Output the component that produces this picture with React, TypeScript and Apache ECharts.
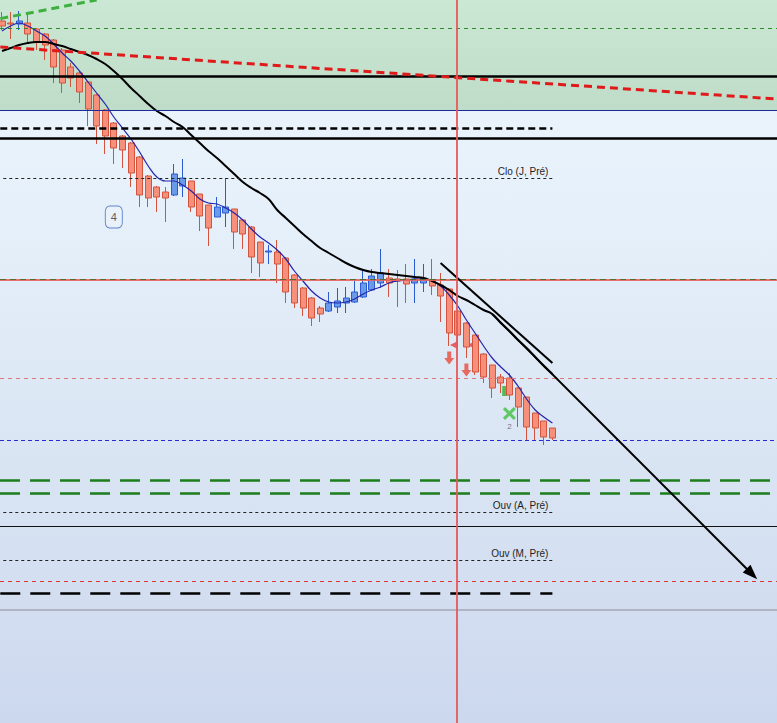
import { useEffect, useRef } from "react";
import * as echarts from "echarts";

// one entry per bar: [open, close, low, high]
const candles: number[][] = [
  [497.9, 497.4, 497.0, 498.8],
  [497.7, 497.6, 496.1, 498.8],
  [497.6, 497.9, 497.0, 498.9],
  [497.7, 496.6, 495.7, 498.7],
  [497.1, 495.8, 495.0, 497.2],
  [496.6, 495.5, 494.0, 496.7],
  [496.0, 493.3, 491.7, 496.1],
  [495.0, 491.7, 490.7, 495.2],
  [493.3, 492.2, 491.3, 493.7],
  [492.7, 490.8, 489.7, 492.8],
  [491.8, 489.1, 487.4, 491.9],
  [490.5, 487.4, 485.6, 490.6],
  [489.0, 486.4, 484.6, 489.1],
  [487.7, 485.2, 483.6, 487.8],
  [486.4, 485.0, 483.2, 486.5],
  [485.7, 482.7, 481.3, 485.8],
  [484.3, 480.5, 479.3, 484.4],
  [482.4, 480.2, 479.3, 482.5],
  [481.3, 480.3, 478.8, 481.4],
  [480.8, 480.2, 477.8, 481.3],
  [480.5, 482.6, 480.4, 483.6],
  [481.4, 482.2, 480.3, 484.1],
  [481.9, 479.3, 478.8, 481.9],
  [480.6, 478.4, 476.9, 480.6],
  [479.5, 477.2, 475.4, 479.5],
  [478.3, 479.3, 478.3, 480.3],
  [478.7, 479.3, 477.3, 482.2],
  [479.1, 476.8, 475.1, 479.1],
  [478.0, 476.6, 475.1, 478.1],
  [477.3, 474.3, 472.7, 477.4],
  [475.8, 473.7, 472.3, 475.8],
  [474.8, 474.9, 473.6, 475.5],
  [474.8, 473.6, 471.7, 476.0],
  [474.2, 470.8, 469.7, 474.3],
  [472.5, 469.7, 469.2, 472.6],
  [471.2, 469.2, 468.4, 471.3],
  [470.2, 468.2, 467.4, 470.3],
  [469.2, 468.6, 467.8, 469.4],
  [468.9, 469.7, 468.8, 470.8],
  [469.3, 469.9, 468.7, 471.2],
  [469.7, 470.2, 468.7, 471.3],
  [469.8, 470.8, 469.7, 471.9],
  [470.3, 471.7, 470.2, 473.1],
  [471.0, 472.4, 470.9, 473.1],
  [471.7, 472.7, 471.2, 475.1],
  [472.2, 471.7, 470.3, 473.1],
  [472.1, 471.9, 469.3, 473.0],
  [472.1, 471.6, 469.7, 473.6],
  [471.7, 472.1, 469.7, 474.1],
  [471.7, 472.2, 470.8, 473.6],
  [472.0, 471.4, 470.5, 474.1],
  [471.5, 470.4, 467.8, 472.7],
  [471.1, 466.7, 465.4, 471.2],
  [468.9, 466.5, 465.3, 469.0],
  [467.7, 465.3, 464.2, 467.8],
  [466.5, 462.8, 462.5, 466.5],
  [464.6, 462.3, 461.7, 464.7],
  [463.5, 461.2, 460.2, 463.5],
  [462.3, 461.7, 460.7, 462.6],
  [462.2, 460.5, 460.0, 462.7],
  [461.2, 459.3, 457.3, 461.3],
  [460.3, 457.3, 456.0, 460.3],
  [458.7, 457.2, 456.0, 458.7],
  [457.9, 456.3, 455.5, 457.9],
  [457.2, 456.2, 456.0, 457.2],
];

const fastMa = [
  496.9, 497.4, 497.7, 497.4, 496.9, 496.4, 495.6, 494.7, 493.9, 492.9,
  491.8, 490.7, 489.6, 488.3, 487.2, 486.1, 484.8, 483.4, 482.3, 481.9,
  481.9, 481.5, 480.9, 480.1, 479.7, 479.6, 479.2, 478.7, 478.0, 477.1,
  476.3, 475.7, 475.0, 474.1, 472.9, 471.9, 470.9, 470.2, 469.8, 469.7,
  469.8, 470.1, 470.6, 471.0, 471.3, 471.7, 471.9, 472.0, 472.1, 472.1,
  471.9, 471.4, 470.5, 469.4, 468.0, 466.7, 465.4, 464.2, 463.3, 462.5,
  461.4, 460.1, 459.0, 458.3, 457.7,
];

const slowMa = [
  494.9, 495.2, 495.5, 495.7, 495.8, 495.8, 495.6, 495.4, 495.1, 494.8,
  494.5, 494.1, 493.6, 492.9, 492.1, 491.2, 490.4, 489.6, 488.9, 488.4,
  487.8, 487.3, 486.5, 485.7, 484.9, 484.2, 483.4, 482.6, 481.8, 481.2,
  480.7, 480.1, 479.0, 478.2, 477.4, 476.6, 475.9, 475.2, 474.7, 474.2,
  473.7, 473.3, 473.0, 472.8, 472.7, 472.6, 472.5, 472.4, 472.3, 472.2,
  471.9, 471.5, 471.0, 470.4, 470.0, 469.5, 469.0, 468.6, 467.7, 466.9,
  466.0, 465.2, 464.3, 463.4, 462.6,
];

// zones and levels (price)
const greenZone = [500, 489.0];
const thickSolidLevels = [492.4, 486.2];
const thinSolidLevels = [447.4];
const blueZoneEdge = 489.0;
const greenThinLevel = 497.2;
const thickDashLevelsShort = [487.2];
const thickDashLevelsLong = [440.7];
const greenDashLevels = [452.0, 450.7];
const bluePivot = 456.0;
const redMonthLow = 441.9;
const redSupport = 472.0;
const oliveLevel = 472.1;
const baseLine = 439.0;
const pivotLabels = ["Clo (J, Pré)", "Bas (J, Pré)", "Ouv (A, Pré)", "Ouv (M, Pré)"];
const pivotPrices = [482.2, 462.2, 448.8, 444.0];
const sessionMarkerBar = 52.9;

// trend lines: [[bar, price], [bar, price]]
const redTrend = [[-0.2, 495.3], [90.1, 490.1]];
const greenTrend = [[-0.2, 498.14], [11.0, 500.0]];
const shortTrend = [[51, 473.7], [64, 463.7]];
const arrowTrend = [[57, 468.6], [87.2, 442.6]];

// signals
const sellArrows = [[52, 464.2], [54, 463.0]];
const sellTicks = [[52.55, 465.5], [54.6, 465.5]];
const buyTicks = [[58.45, 460.9]];
const crossSignals = [[59, 458.65, 2]];
const waveCounts = [[13, 478.3, 4]];

const FONT = "'Liberation Sans', Arial, sans-serif";

export default function App() {
  const ref = useRef<HTMLDivElement | null>(null);

  useEffect(() => {
    document.body.style.margin = "0";
    if (!ref.current) return;
    const chart = echarts.init(ref.current, null, { renderer: "svg" });

    const lastBar = candles.length - 1;
    const full = (v: number, lineStyle: any) => ({ yAxis: v, lineStyle });
    const seg = (a: number[], b: number[], lineStyle: any, extra: any = {}) => [
      { coord: a, lineStyle, ...extra },
      { coord: b },
    ];
    const thinDash = { color: "#222", width: 1, type: [3, 3] };

    const pivotLines: any[] = pivotPrices.map((p, i) => {
      const isBas = i === 1;
      return seg([0.15, p], [lastBar, p], isBas ? { opacity: 0 } : thinDash, {
        label: {
          show: true,
          position: "insideEndTop",
          distance: [4, 2],
          formatter: pivotLabels[i],
          color: isBas ? "rgba(222,100,100,0.85)" : "#1e1e1e",
          fontSize: 10,
          fontFamily: FONT,
        },
      });
    });

    const markLines: any[] = [
      full(greenThinLevel, { color: "#2f8a2f", width: 1, type: [4, 4] }),
      full(blueZoneEdge, { color: "#1c2a9c", width: 1, type: "solid" }),
      ...thickSolidLevels.map((v) => full(v, { color: "#000", width: 2.5, type: "solid" })),
      ...thinSolidLevels.map((v) => full(v, { color: "#111", width: 1, type: "solid" })),
      ...thickDashLevelsShort.map((v) =>
        seg([-0.2, v], [lastBar, v], { color: "#000", width: 2.5, type: [7, 4] })
      ),
      ...thickDashLevelsLong.map((v) =>
        seg([-0.2, v], [lastBar, v], { color: "#000", width: 2.5, type: [20, 10] })
      ),
      ...greenDashLevels.map((v) => full(v, { color: "#1b7d1b", width: 2.5, type: [20, 10] })),
      full(redSupport, { color: "rgba(232,96,96,0.9)", width: 2, type: "solid" }),
      full(oliveLevel, { color: "#5a6b2c", width: 1.2, type: [6, 4] }),
      full(pivotPrices[1], { color: "#e07878", width: 1, type: [4, 4] }),
      full(bluePivot, { color: "#2a2ad0", width: 1, type: [4, 3] }),
      full(redMonthLow, { color: "#e03434", width: 1, type: [4, 4] }),
      full(baseLine, { color: "#a4a6b0", width: 1.5, type: "solid" }),
      ...pivotLines,
      seg(redTrend[0], redTrend[1], { color: "#e01a1a", width: 3, type: [8, 5] }),
      seg(greenTrend[0], greenTrend[1], { color: "#3fb040", width: 3, type: [8, 5] }),
      seg(shortTrend[0], shortTrend[1], { color: "#000", width: 2, type: "solid" }),
      [
        { coord: arrowTrend[0], lineStyle: { color: "#000", width: 2, type: "solid" }, symbol: "none" },
        { coord: arrowTrend[1], symbol: "triangle", symbolSize: [11, 15] },
      ],
      { xAxis: sessionMarkerBar, lineStyle: { color: "rgba(232,88,88,0.9)", width: 2, type: "solid" } },
    ];

    chart.setOption({
      animation: false,
      grid: { left: 0, right: 0, top: 0, bottom: 0 },
      xAxis: {
        type: "value",
        min: -0.2326,
        max: 90.1163,
        show: false,
        splitLine: { show: false },
      },
      yAxis: {
        type: "value",
        min: 427.7,
        max: 500,
        show: false,
        splitLine: { show: false },
      },
      series: [
        {
          type: "candlestick",
          name: "prix",
          barWidth: 6.5,
          z: 2,
          data: candles.map((c, i) => [i, c[0], c[1], c[2], c[3]]),
          itemStyle: {
            color: "#6b9ae9",
            color0: "#f6907b",
            borderColor: "#2b5bd0",
            borderColor0: "#d3533c",
            borderWidth: 1,
          },
          emphasis: { disabled: true },
          markArea: {
            silent: true,
            z: 1,
            data: [
              [
                {
                  coord: [-0.2326, greenZone[0]],
                  itemStyle: {
                    color: new echarts.graphic.LinearGradient(0, 0, 0, 1, [
                      { offset: 0, color: "#cbe8d5" },
                      { offset: 1, color: "#bedcc8" },
                    ]),
                  },
                },
                { coord: [90.1163, greenZone[1]] },
              ],
            ],
          },
          markLine: {
            silent: true,
            symbol: ["none", "none"],
            label: { show: false },
            emphasis: { disabled: true },
            data: markLines,
          },
        },
        {
          type: "scatter",
          name: "ticks",
          z: 1,
          silent: true,
          data: sellTicks,
          symbol: "triangle",
          symbolRotate: 90,
          symbolSize: 8,
          itemStyle: { color: "#e53b3b" },
        },
        {
          type: "scatter",
          name: "buyTicks",
          z: 1,
          silent: true,
          data: buyTicks,
          symbol: "rect",
          symbolSize: [5, 10],
          itemStyle: { color: "#2fb02f" },
        },
        {
          type: "line",
          name: "MM lente",
          z: 4,
          data: slowMa.map((v, i) => [i, v]),
          smooth: 0.4,
          showSymbol: false,
          silent: true,
          lineStyle: { color: "#000", width: 2 },
        },
        {
          type: "line",
          name: "MM rapide",
          z: 3,
          data: fastMa.map((v, i) => [i, v]),
          smooth: 0.4,
          showSymbol: false,
          silent: true,
          lineStyle: { color: "#2424a8", width: 1.2 },
        },
        {
          type: "scatter",
          name: "sell",
          z: 6,
          silent: true,
          data: sellArrows,
          symbol: "path://M3,0 L7,0 L7,6 L10,6 L5,12 L0,6 L3,6 Z",
          symbolSize: [10, 13],
          itemStyle: { color: "#e84a3a" },
        },
        {
          type: "scatter",
          name: "cross",
          z: 6,
          silent: true,
          data: crossSignals,
          symbol:
            "path://M2,0 L6,4 L10,0 L12,2 L8,6 L12,10 L10,12 L6,8 L2,12 L0,10 L4,6 L0,2 Z",
          symbolSize: 13,
          itemStyle: { color: "#3fc23f" },
          label: {
            show: true,
            position: "bottom",
            distance: 2,
            formatter: (p: any) => String(p.value[2]),
            color: "#555",
            fontSize: 8,
            fontFamily: FONT,
          },
        },
        {
          type: "scatter",
          name: "wave",
          z: 6,
          silent: true,
          data: waveCounts,
          symbol: "roundRect",
          symbolSize: [17, 22],
          itemStyle: { color: "rgba(255,255,255,0.15)", borderColor: "#3a66bd", borderWidth: 1 },
          label: {
            show: true,
            position: "inside",
            formatter: (p: any) => String(p.value[2]),
            color: "#333",
            fontSize: 11,
            fontFamily: FONT,
          },
        },
      ],
    });

    return () => chart.dispose();
  }, []);

  return (
    <div
      ref={ref}
      style={{
        width: 777,
        height: 723,
        background: "linear-gradient(#edf6fd 0%, #e6f0fa 30%, #d9e4f3 65%, #ccd8ee 100%)",
      }}
    />
  );
}
